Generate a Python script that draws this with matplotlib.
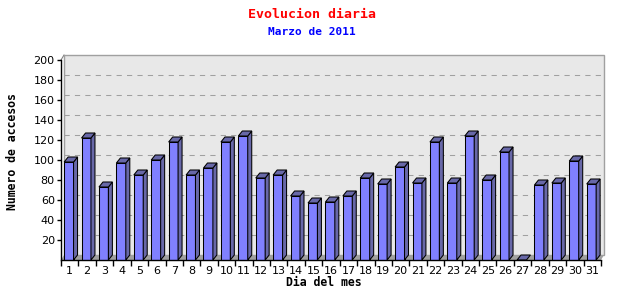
import matplotlib
matplotlib.use("Agg")
from matplotlib import pyplot as plt
from matplotlib.patches import Polygon, Rectangle
import numpy as np

dias = list(range(1, 32))
accesos = [98, 122, 73, 97, 85, 100, 118, 85, 92, 118, 124, 82, 85, 64, 57,
           58, 64, 82, 76, 93, 77, 118, 77, 124, 80, 108, 0, 75, 77, 99, 76]
yticks = list(range(20, 201, 20))

titulo = "Evolucion diaria"
subtitulo = "Marzo de 2011"
xlabel = "Dia del mes"
ylabel = "Numero de accesos"

front = '#8080ff'
shade = '#6868a8'
plane = '#e8e8e8'
edge_grey = '#a0a0a0'
mono = 'DejaVu Sans Mono'
lw = 0.75

fig = plt.figure(figsize=(6.4, 3.0), dpi=100)
W, H = 640, 300
x0p, x1p, y0p, y1p = 61, 601, 260, 60
ax = fig.add_axes([x0p / W, (H - y0p) / H, (x1p - x0p) / W, (y0p - y1p) / H])
ax.set_xlim(0.5, 31.5)
ax.set_ylim(0, 200)
ax.patch.set_visible(False)

# depth of the 3d effect in data units
px_x = (x1p - x0p) / 31.0
dx = 4 / px_x
dy = 5
dxp = 3 / px_x

# back plane + floor
ax.add_patch(Rectangle((0.5 + dxp, dy), 31, 200, facecolor=plane, edgecolor=edge_grey,
                       lw=1, clip_on=False, zorder=0))
for g in yticks[:-1]:
    ax.plot([0.5 + dxp, 31.5 + dxp], [g + dy, g + dy], color=edge_grey, lw=lw,
            dashes=(5, 5), clip_on=False, zorder=1)
ax.add_patch(Polygon([(0.5, 0), (31.5, 0), (31.5 + dxp, dy), (0.5 + dxp, dy)],
                     closed=True, facecolor='#a0a0a0', edgecolor='none',
                     clip_on=False, zorder=1))
ax.plot([0.5, 0.5 + dxp], [200, 200 + dy], color='#808080', lw=lw, clip_on=False, zorder=1)
ax.plot([0.5 + dxp, 0.5 + dxp], [dy, 200 + dy], color=edge_grey, lw=lw, clip_on=False, zorder=1)

# bars
bw = 0.54
for d, v in zip(dias, accesos):
    c = d - 0.05
    xa, xb = c - bw / 2, c + bw / 2
    if v > 0:
        ax.add_patch(Rectangle((xa, 0), bw, v, facecolor=front, edgecolor='black',
                               lw=lw, zorder=3, clip_on=False))
        ax.add_patch(Polygon([(xb, 0), (xb + dx, dy), (xb + dx, v + dy), (xb, v)],
                             closed=True, facecolor=shade, edgecolor='black', lw=lw,
                             zorder=3, clip_on=False))
    ax.add_patch(Polygon([(xa, v), (xb, v), (xb + dx, v + dy), (xa + dx, v + dy)],
                         closed=True, facecolor=shade, edgecolor='black', lw=lw,
                         zorder=3, clip_on=False))

for s in ['top', 'right']:
    ax.spines[s].set_visible(False)
for s in ['left', 'bottom']:
    ax.spines[s].set_color('black')
    ax.spines[s].set_linewidth(1)
    ax.spines[s].set_zorder(4)

ax.set_yticks(yticks)
ax.set_yticklabels([str(t) for t in yticks])
ax.tick_params(axis='y', direction='out', length=3, width=1, pad=1.5, labelsize=8)

ax.set_xticks(np.arange(0.5, 32, 1))
ax.set_xticklabels([])
ax.tick_params(axis='x', which='major', direction='out', length=4, width=1)
ax.set_xticks(dias, minor=True)
ax.set_xticklabels([str(d) for d in dias], minor=True)
ax.tick_params(axis='x', which='minor', length=0, pad=4, labelsize=8)

fig.text(312 / W, 1 - 14 / H, titulo, color='red', fontsize=9.5, family=mono,
         weight='bold', ha='center', va='center')
fig.text(312 / W, 1 - 32 / H, subtitulo, color='blue', fontsize=8, family=mono,
         weight='bold', ha='center', va='center')
fig.text(324 / W, 1 - 282 / H, xlabel, color='black', fontsize=8.3, family=mono,
         weight='bold', ha='center', va='center')
fig.text(13 / W, 1 - 152 / H, ylabel, color='black', fontsize=8.3, family=mono,
         weight='bold', ha='center', va='center', rotation=90)

fig.savefig('out.png', dpi=100)
